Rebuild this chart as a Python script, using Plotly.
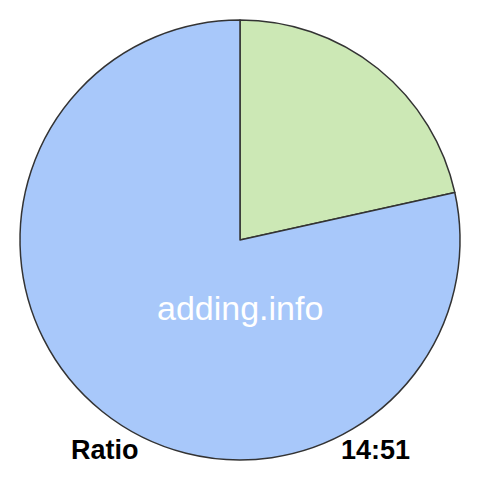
import plotly.graph_objects as go

labels = ["14", "51"]
values = [14, 51]
colors = ["#cce8b5", "#a8c8fa"]

W = H = 480
OFF = 8  # compensate the page's default body margin
fig = go.Figure(go.Pie(
    labels=labels, values=values, sort=False, direction="clockwise", rotation=0,
    marker=dict(colors=colors, line=dict(color="#333333", width=1.5)),
    textinfo="none", hoverinfo="none", showlegend=False,
    domain=dict(x=[(20-OFF)/W, (460-OFF)/W], y=[1-(460-OFF)/H, 1-(20-OFF)/H]),
))
ann = dict(xref="paper", yref="paper", showarrow=False, xanchor="center", yanchor="middle")
fig.add_annotation(text="adding.info", x=(240-OFF)/W, y=1-(308-OFF)/H,
                   font=dict(family="Liberation Sans, Arial", size=34, color="white"), **ann)
fig.add_annotation(text="<b>Ratio</b>", x=(105-OFF)/W, y=1-(450-OFF)/H,
                   font=dict(family="Liberation Sans, Arial", size=27, color="black"), **ann)
fig.add_annotation(text="<b>14:51</b>", x=(375-OFF)/W, y=1-(450-OFF)/H,
                   font=dict(family="Liberation Sans, Arial", size=27, color="black"), **ann)
fig.update_layout(width=W, height=H, margin=dict(l=0, r=0, t=0, b=0),
                  paper_bgcolor="white", plot_bgcolor="white")
fig.write_html("out.html")
